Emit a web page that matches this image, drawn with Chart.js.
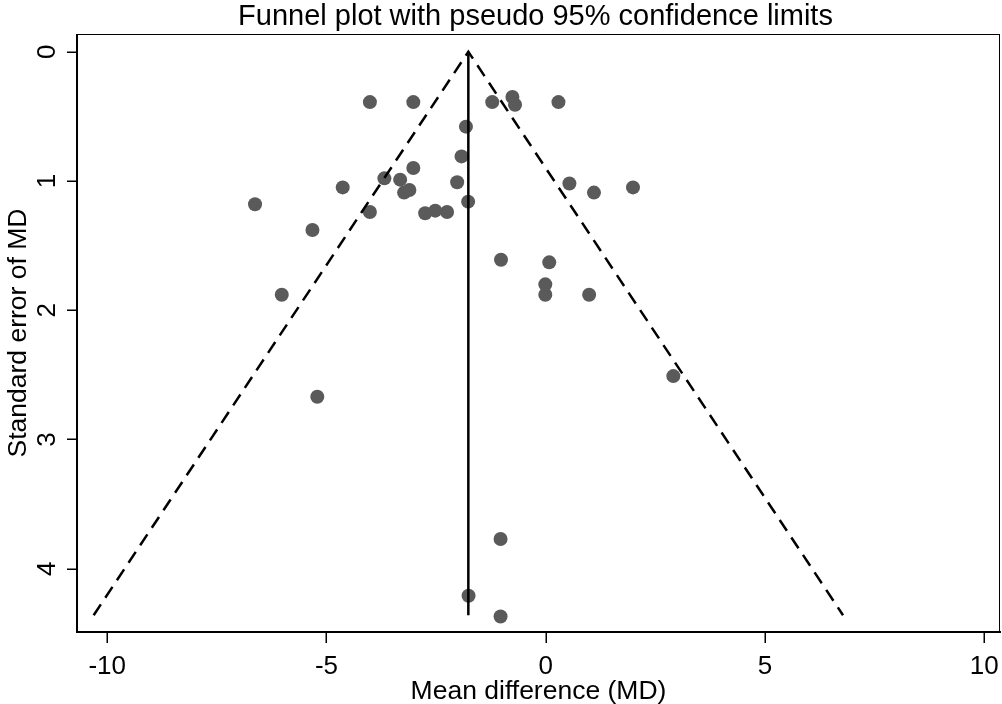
<!DOCTYPE html>
<html>
<head>
<meta charset="utf-8">
<script src="https://cdn.jsdelivr.net/npm/chart.js@4.4.1/dist/chart.umd.min.js"></script>
<style>
  html, body { margin: 0; padding: 0; background: #ffffff; }
  #wrap { width: 1002px; height: 704px; position: relative; }
</style>
</head>
<body>
<div id="wrap"><canvas id="c" width="1002" height="704"></canvas></div>
<script>
// ---- data ----
const chartTitle = "Funnel plot with pseudo 95% confidence limits";
const xAxisTitle = "Mean difference (MD)";
const yAxisTitle = "Standard error of MD";
const xTickValues = [-10, -5, 0, 5, 10];
const yTickValues = [0, 1, 2, 3, 4];

const studyMD = [-4.01, -3.02, -1.22, -0.76, -0.70, 0.29, -1.82, -1.92, -3.02, -3.68,
                 -3.32, -2.02, -4.63, 0.54, -3.23, -3.11, -1.77, -4.01, -2.75, -2.52,
                 -2.25, -6.63, -5.32, -6.02, -5.21, 2.91, -1.02, 0.08, -0.01, -0.01,
                 0.99, 1.10, 1.99, -1.03, -1.76, -1.03];
const studySE = [0.39, 0.39, 0.39, 0.35, 0.41, 0.39, 0.58, 0.81, 0.90, 0.98,
                 0.99, 1.01, 1.05, 1.02, 1.09, 1.07, 1.16, 1.24, 1.25, 1.23,
                 1.24, 1.18, 1.38, 1.88, 2.67, 2.51, 1.61, 1.63, 1.80, 1.88,
                 1.88, 1.09, 1.05, 3.77, 4.21, 4.37];

const funnelX = [-10.31, -1.765, 6.78];
const funnelY = [4.36, 0, 4.36];
const pooledX = [-1.765, -1.765];
const pooledY = [0, 4.36];

const xRange = [-10.69, 10.36];
const yRange = [-0.137, 4.49];

const FONT = '"Liberation Sans", Arial, Helvetica, sans-serif';

const axesPlugin = {
  id: 'stataAxes',
  afterDraw(chart) {
    const ctx = chart.ctx;
    const a = chart.chartArea;
    const xs = chart.scales.x, ys = chart.scales.y;
    ctx.save();
    // plot region frame
    ctx.strokeStyle = '#000';
    ctx.lineWidth = 1;
    ctx.strokeRect(a.left + 0.5, a.top + 0.5, a.right - a.left - 1, a.bottom - a.top);
    // axis lines (thicker)
    ctx.lineWidth = 2;
    ctx.beginPath();
    ctx.moveTo(a.left, a.top); ctx.lineTo(a.left, a.bottom + 1);
    ctx.moveTo(a.left - 1, a.bottom); ctx.lineTo(a.right + 1, a.bottom);
    ctx.stroke();
    // ticks
    ctx.lineWidth = 1.5;
    ctx.beginPath();
    xTickValues.forEach(v => {
      const px = Math.round(xs.getPixelForValue(v)) + 0.25;
      ctx.moveTo(px, a.bottom); ctx.lineTo(px, a.bottom + 11);
    });
    yTickValues.forEach(v => {
      const py = Math.round(ys.getPixelForValue(v)) + 0.25;
      ctx.moveTo(a.left - 10, py); ctx.lineTo(a.left, py);
    });
    ctx.stroke();
    // x tick labels
    ctx.fillStyle = '#000';
    ctx.font = '26px ' + FONT;
    ctx.textAlign = 'center';
    ctx.textBaseline = 'alphabetic';
    xTickValues.forEach(v => {
      ctx.fillText(String(v), xs.getPixelForValue(v), 673.5);
    });
    // y tick labels (rotated)
    yTickValues.forEach(v => {
      ctx.save();
      ctx.translate(54.5, ys.getPixelForValue(v));
      ctx.rotate(-Math.PI / 2);
      ctx.fillText(String(v), 0, 0);
      ctx.restore();
    });
    // x axis title
    ctx.font = '26.5px ' + FONT;
    ctx.fillText(xAxisTitle, (a.left + a.right) / 2, 699);
    // y axis title
    ctx.save();
    ctx.translate(25.5, (a.top + a.bottom) / 2);
    ctx.rotate(-Math.PI / 2);
    ctx.fillText(yAxisTitle, 0, 0);
    ctx.restore();
    // chart title
    ctx.font = '29px ' + FONT;
    ctx.fillText(chartTitle, (a.left + a.right) / 2 - 3, 24.5);
    ctx.restore();
  }
};

new Chart(document.getElementById('c'), {
  type: 'scatter',
  data: {
    datasets: [
      {
        label: 'Pseudo 95% limits',
        data: funnelX.map((x, i) => ({ x: x, y: funnelY[i] })),
        showLine: true,
        borderColor: '#000',
        borderWidth: 2.5,
        borderDash: [13, 8],
        pointRadius: 0,
        fill: false,
        order: 0
      },
      {
        label: 'Pooled MD',
        data: pooledX.map((x, i) => ({ x: x, y: pooledY[i] })),
        showLine: true,
        borderColor: '#000',
        borderWidth: 2.5,
        pointRadius: 0,
        fill: false,
        order: 0
      },
      {
        label: 'Studies',
        data: studyMD.map((x, i) => ({ x: x, y: studySE[i] })),
        pointRadius: 7,
        pointHoverRadius: 7,
        backgroundColor: '#5a5a5a',
        borderWidth: 0,
        order: 1
      }
    ]
  },
  options: {
    responsive: false,
    animation: false,
    devicePixelRatio: 1,
    layout: { autoPadding: false, padding: { left: 77, right: 2, top: 34, bottom: 72 } },
    plugins: { legend: { display: false }, title: { display: false }, tooltip: { enabled: false } },
    scales: {
      x: { type: 'linear', display: false, min: xRange[0], max: xRange[1] },
      y: { type: 'linear', display: false, reverse: true, min: yRange[0], max: yRange[1] }
    }
  },
  plugins: [axesPlugin]
});
</script>
</body>
</html>
